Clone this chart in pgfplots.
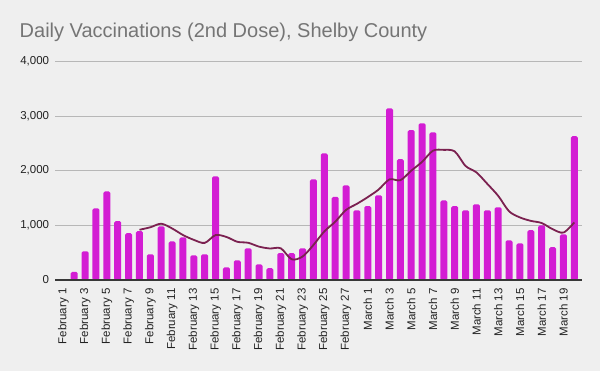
\documentclass[border=0pt]{standalone}
\usepackage{fontspec}
\setmainfont{Liberation Sans}
\usepackage{pgfplots}
\pgfplotsset{compat=1.18}
\definecolor{bgc}{HTML}{EFEFEF}
\definecolor{barc}{HTML}{D31DD3}
\definecolor{linec}{HTML}{7B2150}
\definecolor{titlec}{HTML}{757575}
\definecolor{gridc}{HTML}{B7B7B7}
\definecolor{tickc}{HTML}{222222}
\begin{document}
\begin{tikzpicture}[x=1pt,y=1pt]
\useasboundingbox (0,0) rectangle (600,371);
\fill[bgc] (0,0) rectangle (600,371);
\node[anchor=base west, inner sep=0pt, text=titlec, font=\fontsize{20}{23}\selectfont] at (19.5,333.3) {Daily Vaccinations (2nd Dose), Shelby County};
\begin{axis}[
  at={(55pt,91pt)}, anchor=south west,
  scale only axis, width=526.7pt, height=218.7pt,
  xmin=-0.77, xmax=47.68, ymin=0, ymax=4000,
  axis line style={draw=none},
  major tick length=0pt,
  ymajorgrids, grid style={gridc, line width=0.8pt},
  ytick={0,1000,2000,3000,4000},
  /pgf/number format/.cd, 1000 sep={,}, assume math mode=true, /pgfplots/.cd,
  yticklabel style={inner sep=0pt, text=tickc, font=\fontsize{11.5}{13}\selectfont},
  yticklabel shift=5.7pt,
  xtick={0,2,...,46},
  xticklabels={February 1,February 3,February 5,February 7,February 9,February 11,February 13,February 15,February 17,February 19,February 21,February 23,February 25,February 27,March 1,March 3,March 5,March 7,March 9,March 11,March 13,March 15,March 17,March 19},
  xticklabel style={rotate=90, anchor=east, inner sep=0pt, text=tickc, font=\fontsize{11.5}{13}\selectfont},
  xticklabel shift=8.3pt,
  clip=false,
]
\addplot[ybar, bar width=7pt, fill=barc, draw=none, rounded corners=1.5pt] coordinates {
(1,150) (2,525) (3,1310) (4,1620) (5,1075) (6,855) (7,895) (8,470) (9,980) (10,705)
(11,780) (12,450) (13,470) (14,1895) (15,230) (16,360) (17,580) (18,285) (19,215) (20,490)
(21,490) (22,580) (23,1840) (24,2315) (25,1520) (26,1730) (27,1275) (28,1350) (29,1550) (30,3140)
(31,2210) (32,2740) (33,2865) (34,2700) (35,1455) (36,1350) (37,1275) (38,1385) (39,1275) (40,1330)
(41,725) (42,670) (43,910) (44,1000) (45,600) (46,835) (47,2630)
};
\addplot[linec, line width=1.8pt, smooth, tension=0.5, mark=none] coordinates {
(7,918.6) (8,964.3) (9,1029.3) (10,942.9) (11,822.9) (12,733.6) (13,678.6) (14,821.4)
(15,787.1) (16,698.6) (17,680.7) (18,610) (19,576.4) (20,579.3) (21,378.6) (22,428.6)
(23,640) (24,887.9) (25,1064.3) (26,1280.7) (27,1392.9) (28,1515.7) (29,1654.3) (30,1840)
(31,1825) (32,1999.3) (33,2161.4) (34,2365) (35,2380) (36,2351.4) (37,2085) (38,1967.1)
(39,1757.9) (40,1538.6) (41,1256.4) (42,1144.3) (43,1081.4) (44,1042.1) (45,930) (46,867.1) (47,1052.9)
};
\draw[tickc!90, line width=1.3pt] (rel axis cs:0,0) -- (rel axis cs:1,0);
\end{axis}
\end{tikzpicture}
\end{document}
